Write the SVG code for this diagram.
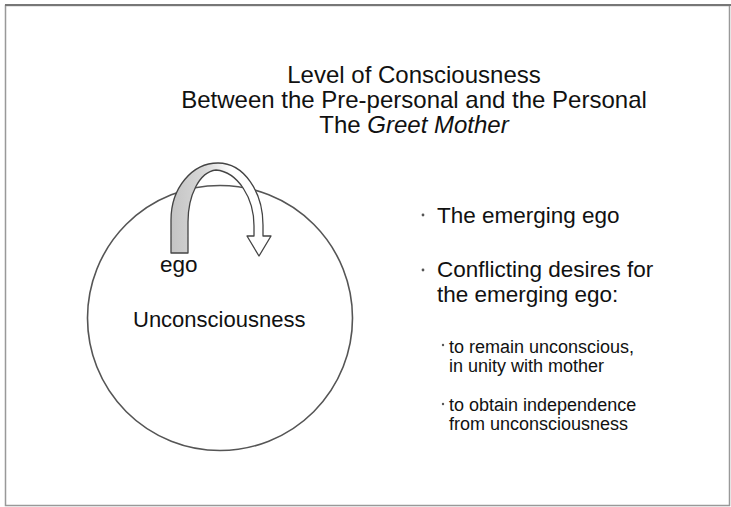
<svg xmlns="http://www.w3.org/2000/svg" width="731" height="507" viewBox="0 0 731 507">
<defs>
<style>
text{font-family:"Liberation Sans",Arial,Helvetica,sans-serif;fill:#111}
.title{font-size:24px;text-anchor:middle}
.b1{font-size:22.5px}
.b2{font-size:18px}
.dot{fill:#555}
</style>
<linearGradient id="band" gradientUnits="userSpaceOnUse" x1="171" y1="0" x2="232" y2="0">
<stop offset="0" stop-color="#c4c4c4"/>
<stop offset="0.55" stop-color="#d8d8d8"/>
<stop offset="1" stop-color="#ffffff"/>
</linearGradient>
</defs>
<rect width="731" height="507" fill="#ffffff"/>
<g id="frame">
<rect x="5.5" y="5.5" width="724" height="500" fill="none" stroke="#999" stroke-width="1.5"/>
<line x1="5" y1="5" x2="731" y2="5" stroke="#777" stroke-width="2"/>
</g>
<g id="title">
<text class="title" x="414" y="83">Level of Consciousness</text>
<text class="title" x="414" y="108">Between the Pre-personal and the Personal</text>
<text class="title" x="414" y="133">The <tspan font-style="italic">Greet Mother</tspan></text>
</g>
<g id="circle">
<circle cx="220" cy="318" r="132.5" fill="none" stroke="#555" stroke-width="1.6"/>
<text class="b1" x="160" y="272">ego</text>
<text class="b1" x="133" y="327" style="font-size:22px">Unconsciousness</text>
</g>
<g id="connectors">
<path d="M171,253 L171,220 C171,188 192,163 218,163 C244,163 263,192 263,225 L263,236 L271,236 L259,256 L247,236 L254,236 L254,226 C254,198 238,172 216,170 C199,172 188,196 188,222 L188,253 Z" fill="url(#band)" stroke="#444" stroke-width="1.3" stroke-linejoin="round"/>
</g>
<g id="bullets">
<circle class="dot" cx="423" cy="215" r="1.4"/>
<text class="b1" x="437" y="223">The emerging ego</text>
<circle class="dot" cx="423" cy="270" r="1.4"/>
<text class="b1" x="437" y="277">Conflicting desires for</text>
<text class="b1" x="437" y="302">the emerging ego:</text>
<circle class="dot" cx="443" cy="345" r="1.2"/>
<text class="b2" x="449" y="353">to remain unconscious,</text>
<text class="b2" x="449" y="372">in unity with mother</text>
<circle class="dot" cx="443" cy="404" r="1.2"/>
<text class="b2" x="449" y="411">to obtain independence</text>
<text class="b2" x="449" y="430">from unconsciousness</text>
</g>
</svg>
